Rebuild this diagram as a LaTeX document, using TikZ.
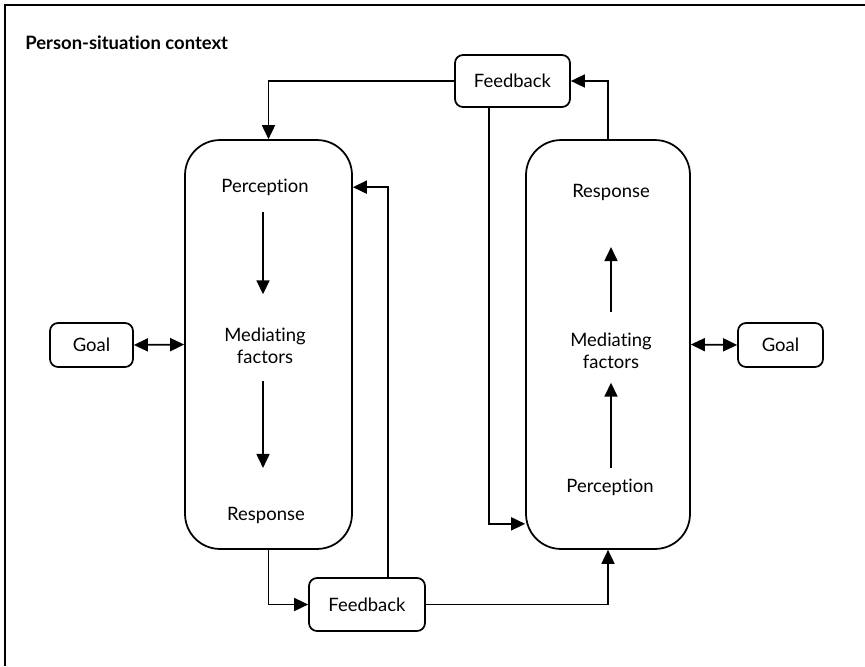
\documentclass[tikz,border=0pt]{standalone}
\usepackage{fontspec}
\setmainfont{Lato}[Ligatures=NoCommon]
\usepackage{tikz}
\usetikzlibrary{arrows.meta}

\begin{document}
\fontsize{10.5}{12.5}\selectfont
\begin{tikzpicture}[x=0.02cm, y=-0.02cm,
		box/.style={draw, line width=1pt, rounded corners=0.16cm, inner sep=0pt},
		bigbox/.style={draw, line width=1pt, rounded corners=0.7cm, inner sep=0pt},
		lbl/.style={align=center, inner sep=2pt},
		arr/.style={line width=1pt, -{Triangle[length=0.28cm, width=0.26cm]}},
		darr/.style={line width=1pt, {Triangle[length=0.28cm, width=0.26cm]}-{Triangle[length=0.28cm, width=0.26cm]}}]
		\useasboundingbox (0,0) rectangle (865,666);
		\draw [black, line width=1.6pt] (865,5) -- (5,5) -- (5,666);
		\node [anchor=west, inner sep=0pt, font=\bfseries\fontsize{10.5}{12}\selectfont] (title) at (25,43) {Person-situation context};

		% Person boxes
		\node [bigbox, minimum width=3.34cm, minimum height=8.18cm] (lbox) at (268.5,344.5) {};
		\node [bigbox, minimum width=3.28cm, minimum height=8.18cm] (rbox) at (608,344.5) {};

		\node [lbl] (lper) at (265,187) {Perception};
		\node [lbl] (lmed) at (265,346) {Mediating\\factors};
		\node [lbl] (lres) at (266,515) {Response};

		\node [lbl] (rres) at (611,192) {Response};
		\node [lbl] (rmed) at (611,351) {Mediating\\factors};
		\node [lbl] (rper) at (610,487) {Perception};

		\draw [arr, shorten <=0.26cm, shorten >=0.6cm] (lper.south -| 263,0) -- (lmed.north -| 263,0);
		\draw [arr, shorten <=0.26cm, shorten >=0.7cm] (lmed.south -| 263,0) -- (lres.north -| 263,0);
		\draw [arr, shorten <=0.14cm, shorten >=0.2cm] (rper.north -| 611,0) -- (rmed.south -| 611,0);
		\draw [arr, shorten <=0.34cm, shorten >=0.86cm] (rmed.north -| 611,0) -- (rres.south -| 611,0);

		% Goals and feedback
		\node [box, minimum width=1.66cm, minimum height=0.88cm] (lgoal) at (91.5,345) {Goal};
		\node [box, minimum width=1.7cm, minimum height=0.88cm] (rgoal) at (780.5,345) {Goal};
		\node [box, minimum width=2.3cm, minimum height=1.04cm] (tfb) at (512.5,81) {Feedback};
		\node [box, minimum width=2.32cm, minimum height=1.06cm] (bfb) at (367,604.5) {Feedback};

		\draw [darr] (lgoal.east) -- (lbox.west);
		\draw [darr] (rbox.east) -- (rgoal.west);

		\draw [arr] (tfb.west) -| (lbox.north);
		\draw [arr] (rbox.north) |- (tfb.east);
		\draw [arr] ([xshift=-0.47cm]tfb.south) |- ([yshift=0.52cm]rbox.south west);
		\draw [arr] (lbox.south) |- (bfb.west);
		\draw [arr] ([xshift=0.42cm]bfb.north) |- ([yshift=-0.96cm]lbox.north east);
		\draw [arr] (bfb.east) -| (rbox.south);
	\end{tikzpicture}
\end{document}
